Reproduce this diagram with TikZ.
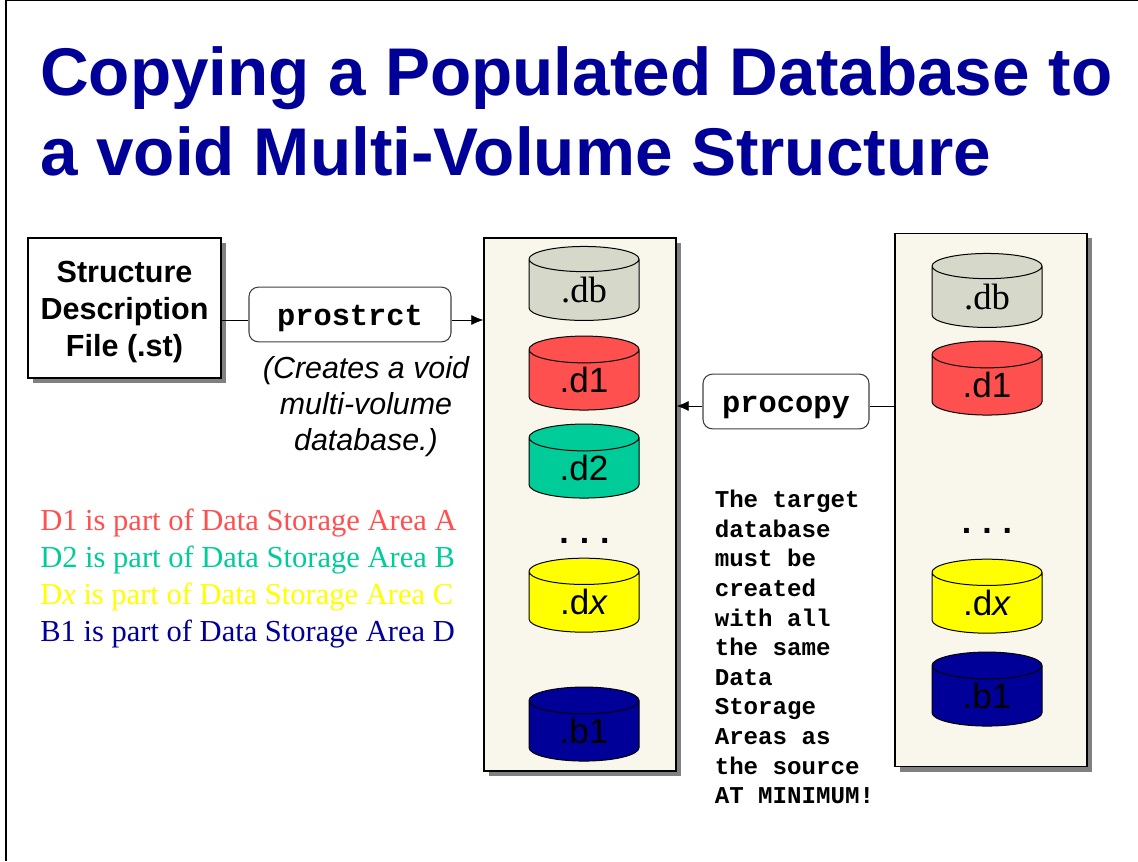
\documentclass[tikz,border=0pt]{standalone}
\usepackage{fontspec}
\setmainfont{Liberation Serif}
\setsansfont{Liberation Sans}
\setmonofont{Liberation Mono}
\usetikzlibrary{arrows.meta,shapes.geometric,shadows}
\definecolor{titleblue}{HTML}{000099}
\definecolor{paneltan}{HTML}{F9F6EC}
\definecolor{dbgray}{HTML}{D6D9C9}
\definecolor{areared}{HTML}{FF5050}
\definecolor{areagreen}{HTML}{00CC99}
\definecolor{areayellow}{HTML}{FFFF00}
\newcommand{\sanslabel}{\fontsize{26.3}{30}\selectfont\sffamily}
\newcommand{\seriflabel}{\fontsize{27.5}{30}\selectfont\rmfamily}
\newcommand{\lowered}[1]{\raisebox{-8.25pt}[0pt][0pt]{#1}}
\tikzset{
    boxshadow/.style={drop shadow={shadow xshift=3.8pt,shadow yshift=-3.8pt,fill=gray,opacity=1}},
    panel/.style={rectangle,draw,line width=1.1pt,fill=paneltan,boxshadow,minimum width=144pt,minimum height=400pt,inner sep=0pt},
    toolbox/.style={rectangle,rounded corners=7pt,draw=black!75,line width=.8pt,fill=white,font=\fontsize{22.8}{26}\selectfont\ttfamily\bfseries},
    disk/.style={cylinder,shape border rotate=90,draw,line width=.75pt,shape aspect=.55,minimum width=82.5pt,minimum height=55.5pt,inner sep=0pt,font=\sanslabel},
    legendline/.style={anchor=base west,inner sep=0pt,font=\fontsize{22.9}{26}\selectfont\rmfamily},
    dots/.style={inner sep=0pt,font=\fontsize{25.5}{30}\selectfont\ttfamily\bfseries}
}
\begin{document}
\begin{tikzpicture}[
                        x=0.75pt,y=-0.75pt,
                        >={Latex[length=9pt,width=7.5pt]}
                    ]
                    \useasboundingbox (0,0) rectangle (1138,861);
                    % Slide frame
                    \coordinate (framebottom) at (6,861);
                    \coordinate (framecorner) at (6,0);
                    \coordinate (frameright) at (1138,0);
                    \draw [line width=1.5pt] (framebottom) -- (framecorner) -- (frameright);

                    % Title
                    \node [anchor=base west,inner sep=0pt,text=titleblue,font=\fontsize{50.6}{60}\selectfont\sffamily\bfseries,align=left] (title) at (40,175) {Copying a Populated Database to\\a void Multi-Volume Structure};

                    % Blocks
                    \node [rectangle,draw,line width=1.1pt,fill=white,boxshadow,minimum width=144.75pt,minimum height=105pt,inner sep=0pt] (stfile) at (124.5,308) {};
                    \node [inner sep=0pt,align=center,font=\fontsize{22.9}{27.7}\selectfont\sffamily\bfseries] (stfiletext) at (124.5,312) {Structure\\Description\\File (.st)};
                    \node [toolbox,minimum width=151.5pt,minimum height=41pt] (prostrct) at (350,314.5) {\lowered{prostrct}};
                    \node [inner sep=0pt,align=center,font=\fontsize{22.8}{27}\selectfont\sffamily\itshape] (creates) at (366,407) {(Creates a void\\multi-volume\\database.)};
                    \node [panel] (target) at (580,504.5) {};
                    \node [panel] (source) at (991,500) {};
                    \node [toolbox,minimum width=124.5pt,minimum height=41pt] (procopy) at (786,401.5) {\lowered{procopy}};

                    % Target disks
                    \node [disk,fill=dbgray,font=\seriflabel] (tdb) at (584,290) {.db};
                    \node [disk,fill=areared] (tdone) at (584,380) {.d1};
                    \node [disk,fill=areagreen] (tdtwo) at (584,468) {.d2};
                    \node [dots] (tdots) at (584.5,541) {...};
                    \node [disk,fill=areayellow] (tdx) at (584,602) {.d\textit{x}};
                    \node [disk,fill=titleblue] (tbone) at (584,731) {.b1};

                    % Source disks
                    \node [disk,fill=dbgray,font=\seriflabel] (sdb) at (987,297) {.db};
                    \node [disk,fill=areared] (sdone) at (987,385) {.d1};
                    \node [dots] (sdots) at (987,531) {...};
                    \node [disk,fill=areayellow] (sdx) at (987,603) {.d\textit{x}};
                    \node [disk,fill=titleblue] (sbone) at (987,696) {.b1};

                    % Legend
                    \node [legendline,text=areared] (legendA) at (40,530) {D1 is part of Data Storage Area A};
                    \node [legendline,text=areagreen] (legendB) at (40,567) {D2 is part of Data Storage Area B};
                    \node [legendline,text=areayellow] (legendC) at (40,604) {D\textit{x} is part of Data Storage Area C};
                    \node [legendline,text=titleblue] (legendD) at (40,641) {B1 is part of Data Storage Area D};

                    % Note
                    \node [anchor=north west,inner sep=0pt,align=left,font=\fontsize{18.1}{22.2}\selectfont\ttfamily\bfseries] (note) at (714.5,490) {The target\\database\\must be\\created\\with all\\the same\\Data\\Storage\\Areas as\\the source\\AT MINIMUM!};

                    % Connections
                    \coordinate (prostrctline) at (350,320);
                    \coordinate (procopyline) at (786,406);
                    \draw [-] (stfile.east |- prostrctline) -- (prostrct.west |- prostrctline);
                    \draw [->] (prostrct.east |- prostrctline) -- (target.west |- prostrctline);
                    \draw [-] (source.west |- procopyline) -- (procopy.east |- procopyline);
                    \draw [->] (procopy.west |- procopyline) -- (target.east |- procopyline);
                \end{tikzpicture}
\end{document}
